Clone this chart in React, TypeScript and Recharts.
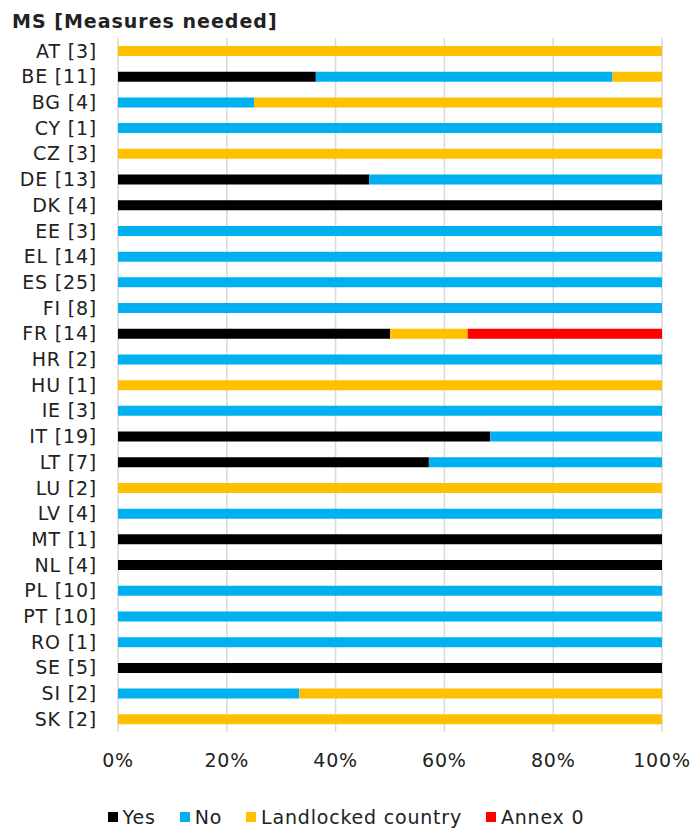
import React from 'react';
import { BarChart, Bar, XAxis, YAxis, CartesianGrid, Legend } from 'recharts';

const FONT = '"DejaVu Sans", Verdana, sans-serif';
const TEXT = '#222222';
const LS = 0.8;

const countries = ['AT', 'BE', 'BG', 'CY', 'CZ', 'DE', 'DK', 'EE', 'EL', 'ES', 'FI', 'FR', 'HR', 'HU', 'IE', 'IT', 'LT', 'LU', 'LV', 'MT', 'NL', 'PL', 'PT', 'RO', 'SE', 'SI', 'SK'];
const measures = [3, 11, 4, 1, 3, 13, 4, 3, 14, 25, 8, 14, 2, 1, 3, 19, 7, 2, 4, 1, 4, 10, 10, 1, 5, 2, 2];
const yesCounts = [0, 4, 0, 0, 0, 6, 4, 0, 0, 0, 0, 7, 0, 0, 0, 13, 4, 0, 0, 1, 4, 0, 0, 0, 5, 0, 0];
const noCounts = [0, 6, 1, 1, 0, 7, 0, 3, 14, 25, 8, 0, 2, 0, 3, 6, 3, 0, 4, 0, 0, 10, 10, 1, 0, 1, 0];
const landlockedCounts = [3, 1, 3, 0, 3, 0, 0, 0, 0, 0, 0, 2, 0, 1, 0, 0, 0, 2, 0, 0, 0, 0, 0, 0, 0, 2, 2];
const annexCounts = [0, 0, 0, 0, 0, 0, 0, 0, 0, 0, 0, 5, 0, 0, 0, 0, 0, 0, 0, 0, 0, 0, 0, 0, 0, 0, 0];
const xTicks = [0, 0.2, 0.4, 0.6, 0.8, 1];

const series = [
  { key: 'yes', name: 'Yes', color: '#000000' },
  { key: 'no', name: 'No', color: '#00B0F0' },
  { key: 'landlocked', name: 'Landlocked country', color: '#FFC000' },
  { key: 'annex', name: 'Annex 0', color: '#FF0000' },
];

const data = countries.map((c, i) => ({
  label: `${c} [${measures[i]}]`,
  yes: yesCounts[i],
  no: noCounts[i],
  landlocked: landlockedCounts[i],
  annex: annexCounts[i],
}));

const LegendContent = () => (
  <div
    style={{
      display: 'flex',
      justifyContent: 'center',
      alignItems: 'center',
      height: 26,
      paddingLeft: 30,
      fontFamily: FONT,
      fontSize: 19,
      letterSpacing: LS,
      color: TEXT,
    }}
  >
    {series.map((s, i) => (
      <div key={s.key} style={{ display: 'flex', alignItems: 'center', marginLeft: i === 0 ? 0 : 24 }}>
        <span style={{ display: 'inline-block', width: 10, height: 10, background: s.color, marginRight: 5 }} />
        <span>{s.name}</span>
      </div>
    ))}
  </div>
);

export default function App() {
  return (
    <div style={{ position: 'absolute', left: 0, top: 0, width: 697, height: 830, background: '#ffffff' }}>
      <div
        style={{
          position: 'absolute',
          left: 12,
          top: 12,
          fontFamily: FONT,
          fontWeight: 'bold',
          fontSize: 19,
          letterSpacing: 1,
          lineHeight: '19px',
          color: TEXT,
          whiteSpace: 'nowrap',
        }}
      >
        MS [Measures needed]
      </div>
      <BarChart
        width={697}
        height={830}
        data={data}
        layout="vertical"
        stackOffset="expand"
        margin={{ top: 38, right: 35, bottom: 0, left: 0 }}
      >
        <CartesianGrid horizontal={false} stroke="#d9d9d9" strokeWidth={1.5} />
        <XAxis
          type="number"
          domain={[0, 1]}
          ticks={xTicks}
          tickFormatter={(v: number) => `${Math.round(v * 100)}%`}
          axisLine={false}
          tickLine={false}
          tickMargin={16}
          height={72}
          tick={{ fill: TEXT, fontSize: 19, fontFamily: FONT, letterSpacing: LS }}
        />
        <YAxis
          type="category"
          dataKey="label"
          width={118}
          interval={0}
          axisLine={false}
          tickLine={false}
          tickMargin={15}
          tick={{ fill: TEXT, fontSize: 19, fontFamily: FONT, letterSpacing: LS }}
        />
        <Legend verticalAlign="bottom" content={LegendContent} />
        {series.map((s) => (
          <Bar key={s.key} dataKey={s.key} name={s.name} stackId="a" fill={s.color} barSize={10} isAnimationActive={false} />
        ))}
      </BarChart>
    </div>
  );
}
